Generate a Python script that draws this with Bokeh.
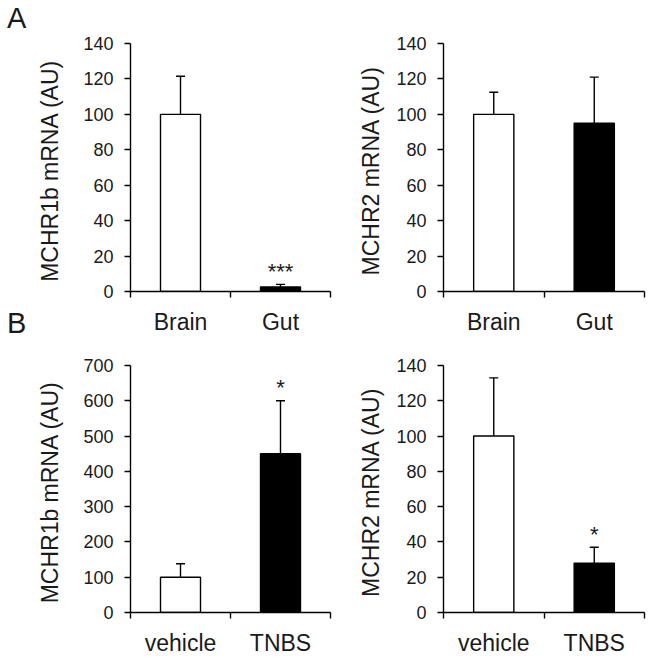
from bokeh.plotting import figure
from bokeh.models import Range1d, FixedTicker, Whisker, TeeHead, ColumnDataSource, Div
from bokeh.layouts import column, row
from bokeh.embed import file_html
from bokeh.resources import INLINE
from bokeh.core.properties import value

FONT = "Liberation Sans"
TXT = "#1a1a1a"

# ---- data ----
a_categories = ["Brain", "Gut"]
a1_values = [100, 2.5]
a1_upper = [121.5, 4]
a1_marks = ["", "***"]
a1_label = "MCHR1b mRNA  (AU)"

a2_values = [100, 95]
a2_upper = [112.5, 121]
a2_marks = ["", ""]
a2_label = "MCHR2 mRNA  (AU)"

b_categories = ["vehicle", "TNBS"]
b1_values = [100, 450]
b1_upper = [138, 600]
b1_marks = ["", "*"]
b1_label = "MCHR1b mRNA  (AU)"

b2_values = [100, 28]
b2_upper = [133, 37]
b2_marks = ["", "*"]
b2_label = "MCHR2 mRNA  (AU)"

panel_letters = ["A", "B"]
bar_colors = ["white", "black"]
ticks_140 = [0, 20, 40, 60, 80, 100, 120, 140]
ticks_700 = [0, 100, 200, 300, 400, 500, 600, 700]


def panel(cats, vals, upper, marks, yticks, ylabel, width, height,
          bl, br, bt, bb, ylab_standoff, xlab_standoff):
    n = len(cats)
    xs = [i + 0.5 for i in range(n)]
    p = figure(width=width, height=height, output_backend="svg",
               toolbar_location=None,
               x_range=Range1d(0, n), y_range=Range1d(0, yticks[-1]),
               min_border_left=bl, min_border_right=br,
               min_border_top=bt, min_border_bottom=bb)
    p.outline_line_color = None
    p.xgrid.visible = False
    p.ygrid.visible = False
    p.background_fill_color = "white"
    p.border_fill_color = "white"

    src = ColumnDataSource(dict(x=xs, top=vals, upper=upper,
                                color=bar_colors[:n], mark=marks))
    p.vbar(x="x", top="top", bottom=0, width=0.4, fill_color="color",
           line_color="black", line_width=1.4, source=src)
    w = Whisker(base="x", lower="top", upper="upper", source=src,
                dimension="height", line_color="black", line_width=1.4,
                upper_head=TeeHead(size=9, line_color="black", line_width=1.4),
                lower_head=None, level="glyph")
    p.add_layout(w)
    p.text(x="x", y="upper", text="mark", source=src,
           text_font=value(FONT), text_font_size="22px",
           text_align="center", text_baseline="alphabetic",
           y_offset=-13, text_color=TXT)

    xa = p.xaxis[0]
    xa.ticker = FixedTicker(ticks=xs, minor_ticks=list(range(n + 1)))
    xa.major_label_overrides = {x: c for x, c in zip(xs, cats)}
    xa.major_tick_line_color = None
    xa.major_tick_out = 0
    xa.major_tick_in = 0
    xa.minor_tick_out = 6
    xa.minor_tick_in = 0
    xa.minor_tick_line_color = "black"
    xa.minor_tick_line_width = 1.4
    xa.axis_line_color = "black"
    xa.axis_line_width = 1.4
    xa.major_label_text_font = FONT
    xa.major_label_text_font_size = "23px"
    xa.major_label_text_color = TXT
    xa.major_label_standoff = xlab_standoff

    ya = p.yaxis[0]
    ya.ticker = FixedTicker(ticks=yticks)
    ya.minor_tick_line_color = None
    ya.major_tick_out = 6
    ya.major_tick_in = 0
    ya.major_tick_line_color = "black"
    ya.major_tick_line_width = 1.4
    ya.axis_line_color = "black"
    ya.axis_line_width = 1.4
    ya.major_label_text_font = FONT
    ya.major_label_text_font_size = "18px"
    ya.major_label_text_color = TXT
    ya.major_label_standoff = 11
    ya.axis_label = ylabel
    ya.axis_label_text_font = FONT
    ya.axis_label_text_font_style = "normal"
    ya.axis_label_text_font_size = "23px"
    ya.axis_label_text_color = TXT
    ya.axis_label_standoff = ylab_standoff
    return p


pa1 = panel(a_categories, a1_values, a1_upper, a1_marks, ticks_140, a1_label,
            308, 338, 102, 6, 43, 47, 17, 11)
pa2 = panel(a_categories, a2_values, a2_upper, a2_marks, ticks_140, a2_label,
            314, 338, 107, 6, 43, 47, 9, 11)
pb1 = panel(b_categories, b1_values, b1_upper, b1_marks, ticks_700, b1_label,
            308, 320, 102, 6, 27, 45, 17, 11)
pb2 = panel(b_categories, b2_values, b2_upper, b2_marks, ticks_140, b2_label,
            314, 320, 107, 6, 27, 45, 9, 11)

letter_style = {"font-family": FONT, "font-size": "29px", "line-height": "29px",
                "color": TXT, "padding-left": "7px", "padding-top": "4px",
                "box-sizing": "border-box"}
div_a = Div(text=panel_letters[0], width=28, height=305, margin=0, styles=letter_style)
div_b = Div(text=panel_letters[1], width=28, height=353, margin=0, styles=letter_style)

layout = row(column(div_a, div_b), column(row(pa1, pa2), row(pb1, pb2)))
open("out.html", "w").write(file_html(layout, INLINE))
